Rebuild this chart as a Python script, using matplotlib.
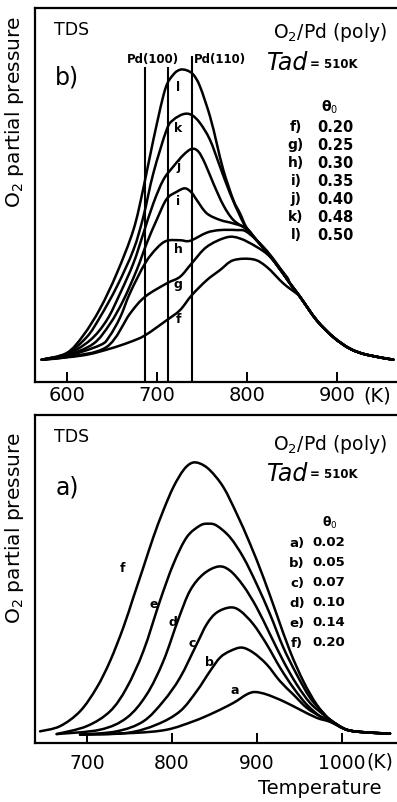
import matplotlib
matplotlib.use("Agg")
import matplotlib.pyplot as plt
from matplotlib.path import Path
from matplotlib.patches import PathPatch

plt.rcParams['font.family'] = ['DejaVu Sans']

# ---------------- data: panel b (top) ----------------
b_curve_names = ['f', 'g', 'h', 'i', 'j', 'k', 'l']
b_theta0 = ['0.20', '0.25', '0.30', '0.35', '0.40', '0.48', '0.50']

b_tail_T = [810.7, 829.3, 847.8, 858.9, 877.4, 895.9, 914.4, 933.0, 962.6]
b_tail_I = [41.2, 34.3, 26.3, 21.7, 13.6, 7.8, 3.8, 1.7, 0.0]

b_l_T = [571.9, 599.6, 618.1, 636.7, 655.2, 673.7, 684.8, 695.9, 708.9, 718.1, 725.6,
         733.0, 740.4, 747.8, 758.9, 766.3, 773.7, 784.8, 792.2, 799.6]
b_l_I = [0.0, 2.3, 8.4, 17.6, 29.7, 44.7, 59.1, 75.8, 93.1, 98.3, 100.0,
         99.8, 98.3, 94.2, 83.9, 74.7, 65.4, 55.1, 50.5, 45.5]

b_k_T = [571.9, 599.6, 621.9, 636.7, 655.2, 673.7, 684.8, 695.9, 710.7, 718.1, 729.3,
         738.5, 747.8, 758.9, 770.0, 781.1, 792.2, 799.6]
b_k_I = [0.0, 2.1, 7.8, 14.7, 25.1, 37.8, 49.3, 64.3, 79.3, 82.7, 84.7,
         84.4, 81.6, 75.8, 66.6, 57.4, 49.6, 45.2]

b_j_T = [571.9, 599.6, 625.6, 644.1, 658.9, 673.7, 684.8, 695.9, 707.0, 718.1, 729.3,
         738.5, 745.9, 753.3, 762.6, 773.7, 784.8, 799.6]
b_j_I = [0.0, 1.8, 6.7, 13.6, 22.8, 33.2, 43.5, 53.9, 62.0, 66.6, 70.6,
         72.7, 71.8, 67.7, 60.8, 53.3, 48.2, 44.9]

b_i_T = [571.9, 599.6, 629.3, 647.8, 662.6, 677.4, 688.5, 699.6, 710.7, 721.9, 731.1,
         738.5, 744.1, 755.2, 770.0, 784.8, 799.6]
b_i_I = [0.0, 1.5, 5.5, 12.4, 20.5, 30.9, 40.1, 48.2, 55.4, 57.9, 59.1,
         57.6, 55.1, 50.5, 48.2, 47.0, 45.3]

b_h_T = [571.9, 599.6, 636.7, 647.0, 658.9, 670.0, 686.7, 699.6, 710.7, 725.6, 736.7,
         755.2, 770.0, 788.5, 799.6, 818.1, 833.0, 847.8]
b_h_I = [0.0, 1.2, 5.0, 8.0, 14.5, 23.0, 33.2, 38.4, 41.0, 41.2, 41.0,
         43.8, 44.7, 44.7, 44.1, 38.9, 33.2, 26.3]

b_g_T = [571.9, 599.6, 644.1, 670.0, 686.7, 710.7, 725.6, 738.5, 755.2, 777.4, 792.2,
         810.7, 825.6, 844.1]
b_g_I = [0.0, 0.9, 4.4, 15.9, 21.7, 26.3, 28.6, 33.2, 38.9, 42.2, 41.8,
         38.9, 35.5, 28.6]

b_f_T = [571.9, 618.1, 647.8, 670.0, 686.7, 710.7, 725.6, 738.5, 755.2, 770.0, 784.8,
         807.0, 821.9, 840.4, 855.2]
b_f_I = [0.0, 1.5, 3.8, 6.1, 8.4, 13.6, 17.1, 22.2, 27.4, 30.9, 34.3,
         34.6, 32.0, 26.3, 22.8]

b_pd_lines_T = [686.5, 712.0, 738.5]
b_pd_lines_top = [101.0, 101.0, 104.6]
b_xticks = [600, 700, 800, 900]

# ---------------- data: panel a (bottom) ----------------
a_curve_names = ['a', 'b', 'c', 'd', 'e', 'f']
a_theta0 = ['0.02', '0.05', '0.07', '0.10', '0.14', '0.20']

a_tail_T = [1005.5, 1029.0, 1056.5]
a_tail_I = [1.2, 0.2, -0.2]

a_f_T = [644.7, 668.2, 691.8, 711.4, 727.1, 742.7, 754.5, 766.3, 778.0, 789.8, 801.6,
         813.3, 823.1, 832.9, 844.7, 860.4, 876.1, 891.8, 907.5, 923.1, 938.8,
         954.5, 970.2, 985.9]
a_f_I = [0.6, 2.5, 8.0, 16.7, 26.5, 38.9, 50.0, 61.1, 72.2, 82.1, 90.7,
         96.9, 99.6, 99.4, 96.9, 90.7, 80.9, 69.8, 57.4, 43.8, 30.2,
         19.1, 10.5, 4.9]

a_e_T = [664.3, 699.6, 727.1, 746.7, 766.3, 785.9, 801.6, 817.3, 832.9, 842.7, 852.5,
         868.2, 883.9, 899.6, 915.3, 931.0, 946.7, 962.4, 978.0, 985.9]
a_e_I = [-0.4, 2.5, 8.0, 16.7, 30.2, 48.8, 62.3, 72.2, 76.5, 77.2, 76.5,
         72.2, 64.8, 54.9, 43.8, 31.5, 21.6, 13.0, 7.4, 4.9]

a_d_T = [664.3, 715.3, 746.7, 770.2, 789.8, 807.5, 821.2, 836.9, 854.5, 868.2, 883.9,
         899.6, 915.3, 931.0, 946.7, 962.4, 978.0, 985.9]
a_d_I = [-0.4, 1.2, 5.6, 14.2, 26.5, 42.0, 52.5, 58.6, 61.4, 59.9, 54.3,
         46.3, 36.4, 26.5, 17.9, 11.1, 6.8, 4.9]

a_c_T = [691.8, 734.9, 766.3, 789.8, 809.4, 829.0, 840.8, 852.5, 868.2, 880.0, 895.7,
         911.4, 927.1, 942.7, 958.4, 974.1, 985.9]
a_c_I = [-0.6, 0.6, 4.3, 11.7, 20.4, 32.7, 40.1, 44.4, 46.3, 45.1, 40.1,
         32.7, 24.1, 16.7, 10.5, 6.2, 4.6]

a_b_T = [691.8, 746.7, 782.0, 809.4, 829.0, 844.7, 856.5, 868.2, 882.0, 895.7, 911.4,
         927.1, 942.7, 958.4, 974.1, 985.9]
a_b_I = [-0.6, 0.0, 3.1, 8.0, 15.4, 22.8, 27.8, 30.2, 31.5, 29.6, 25.3,
         19.1, 14.2, 9.3, 6.2, 4.6]

a_a_T = [691.8, 754.5, 793.7, 825.1, 848.6, 872.2, 887.8, 897.6, 911.4, 931.0, 950.6,
         970.2, 985.9]
a_a_I = [-0.6, 0.0, 1.2, 4.3, 7.4, 11.1, 14.2, 15.1, 14.2, 11.7, 8.6,
         5.6, 4.1]

a_xticks = [700, 800, 900, 1000]

# ---------------- figure ----------------
W, H = 397, 802
fig = plt.figure(figsize=(W / 100, H / 100), dpi=100)


def ftext(x, y, s, **kw):
    fig.text(x / W, 1 - y / H, s, **kw)


LW = 1.8


def smooth_curve(ax, xs, ys):
    """Draw a smooth curve through the given points (Catmull-Rom as cubic Beziers)."""
    pts = list(zip(xs, ys))
    n = len(pts)
    verts = [pts[0]]
    codes = [Path.MOVETO]
    for i in range(n - 1):
        p0 = pts[i - 1] if i > 0 else pts[i]
        p1 = pts[i]
        p2 = pts[i + 1]
        p3 = pts[i + 2] if i + 2 < n else pts[i + 1]
        c1 = (p1[0] + (p2[0] - p0[0]) / 6.0, p1[1] + (p2[1] - p0[1]) / 6.0)
        c2 = (p2[0] - (p3[0] - p1[0]) / 6.0, p2[1] - (p3[1] - p1[1]) / 6.0)
        verts += [c1, c2, p2]
        codes += [Path.CURVE4] * 3
    patch = PathPatch(Path(verts, codes), facecolor='none', edgecolor='black',
                      lw=LW, capstyle='round', joinstyle='round')
    ax.add_patch(patch)


def style_axes(ax, ticks):
    for side in ['left', 'bottom', 'top']:
        ax.spines[side].set_linewidth(1.6)
    ax.spines['right'].set_visible(False)
    ax.set_yticks([])
    ax.set_xticks(ticks)
    ax.tick_params(axis='x', direction='in', length=7, width=1.4)


# top panel b
axb = fig.add_axes([35 / W, 1 - 382 / H, (397 - 35) / W, (382 - 8) / H])
axb.set_xlim(564.4, 966.7)
axb.set_ylim(-7.7, 121.3)
style_axes(axb, b_xticks)
axb.tick_params(axis='x', labelsize=14, pad=3)

b_curves = {
    'f': (b_f_T, b_f_I), 'g': (b_g_T, b_g_I), 'h': (b_h_T, b_h_I),
    'i': (b_i_T, b_i_I), 'j': (b_j_T, b_j_I), 'k': (b_k_T, b_k_I),
    'l': (b_l_T, b_l_I),
}
for name in b_curve_names:
    T, I = b_curves[name]
    Tt = list(T) + [t for t in b_tail_T if t > T[-1] + 3]
    It = list(I) + [v for t, v in zip(b_tail_T, b_tail_I) if t > T[-1] + 3]
    smooth_curve(axb, Tt, It)

axb.vlines(b_pd_lines_T, -7.7, b_pd_lines_top, color='black', lw=1.5)

b_label_I = [13.9, 25.9, 38.0, 54.5, 66.6, 79.8, 94.0]
for name, yv in zip(b_curve_names, b_label_I):
    axb.text(723.7, yv, name, fontsize=9, fontweight='bold', ha='center', va='center')

axb.text(695.6, 103.5, 'Pd(100)', fontsize=8.5, fontweight='bold', ha='center', va='center')
axb.text(770.0, 103.5, 'Pd(110)', fontsize=8.5, fontweight='bold', ha='center', va='center')

# bottom panel a
axa = fig.add_axes([35 / W, 1 - 743 / H, (397 - 35) / W, (743 - 415) / H])
axa.set_xlim(638.8, 1064.7)
axa.set_ylim(-3.7, 117.3)
style_axes(axa, a_xticks)
axa.tick_params(axis='x', labelsize=13.5, pad=8)

a_curves = {
    'a': (a_a_T, a_a_I), 'b': (a_b_T, a_b_I), 'c': (a_c_T, a_c_I),
    'd': (a_d_T, a_d_I), 'e': (a_e_T, a_e_I), 'f': (a_f_T, a_f_I),
}
for name in a_curve_names:
    T, I = a_curves[name]
    smooth_curve(axa, list(T) + list(a_tail_T), list(I) + list(a_tail_I))

a_label_T = [873.3, 843.9, 823.2, 800.8, 778.8, 741.2]
a_label_I = [15.7, 25.9, 33.0, 40.7, 47.3, 60.5]
for name, tx, yv in zip(a_curve_names, a_label_T, a_label_I):
    axa.text(tx, yv, name, fontsize=9, fontweight='bold', ha='center', va='center')

# ---------------- panel annotations ----------------
for y0, tag, ylab_y, dy in [(0, 'b)', 112, 0), (407, 'a)', 528, 4)]:
    ftext(72, 30 + y0, 'TDS', fontsize=12.5, ha='center', va='center')
    ftext(67, 77 + y0 + dy, tag, fontsize=17, ha='center', va='center')
    ftext(330, 33 + y0 + dy, 'O$_2$/Pd (poly)', fontsize=13.5, ha='center', va='center')
    ftext(288, 63 + y0 + dy, 'Tad', fontsize=17, style='italic', ha='center', va='center')
    ftext(334, 64 + y0 + dy, '= 510K', fontsize=8.5, fontweight='bold',
          ha='center', va='center')
    ftext(15, ylab_y, 'O$_2$ partial pressure', fontsize=14.5, rotation=90,
          ha='center', va='center')

# theta legends
ftext(330, 107, 'θ$_0$', fontsize=10, fontweight='bold', ha='center', va='center')
for k, (name, th) in enumerate(zip(b_curve_names, b_theta0)):
    yy = 127 + k * 18.0
    ftext(296, yy, name + ')', fontsize=10, fontweight='bold', ha='center', va='center')
    ftext(317, yy, th, fontsize=10.5, fontweight='bold', ha='left', va='center')

ftext(330, 523, 'θ$_0$', fontsize=9, fontweight='bold', ha='center', va='center')
for k, (name, th) in enumerate(zip(a_curve_names, a_theta0)):
    yy = 543 + k * 20.0
    ftext(297, yy, name + ')', fontsize=9.5, fontweight='bold', ha='center', va='center')
    ftext(312, yy, th, fontsize=9.5, fontweight='bold', ha='left', va='center')

ftext(377, 396, '(K)', fontsize=14, ha='center', va='center')
ftext(380, 762, '(K)', fontsize=13.5, ha='center', va='center')
ftext(320, 789, 'Temperature', fontsize=14, ha='center', va='center')

fig.savefig('out.png', dpi=100, facecolor='white')
